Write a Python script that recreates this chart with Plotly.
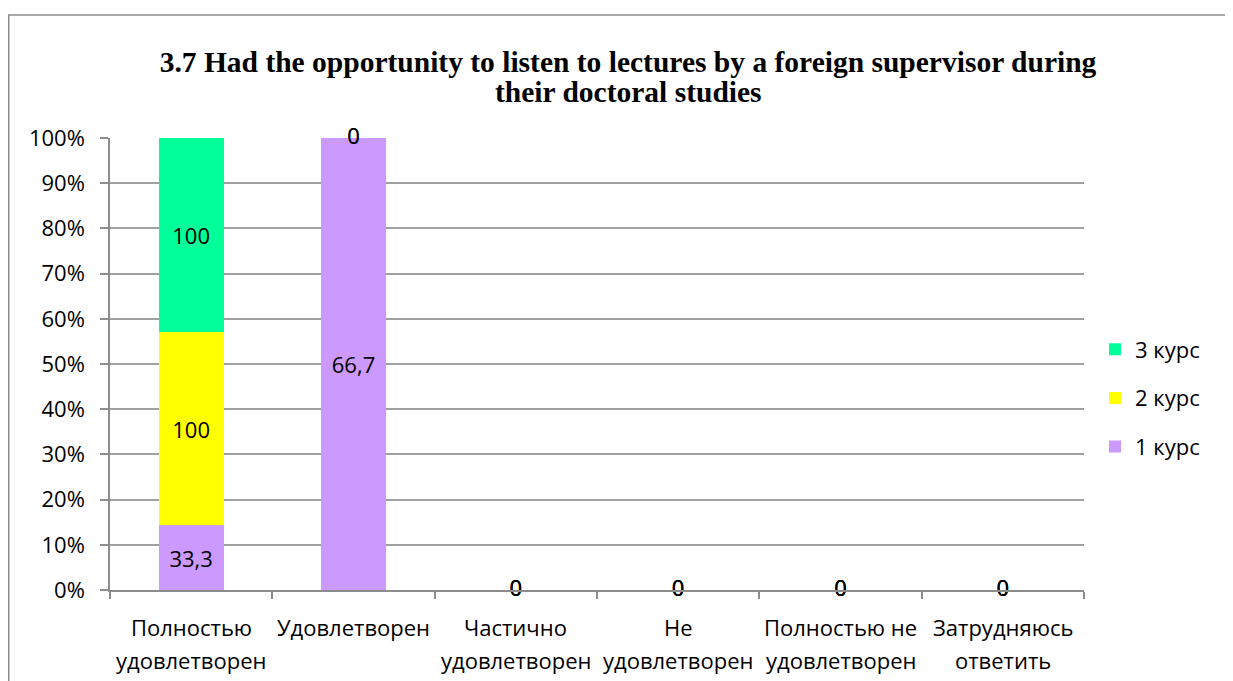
import numpy as np
import plotly.graph_objects as go

categories = ["Полностью<br>удовлетворен", "Удовлетворен", "Частично<br>удовлетворен",
              "Не<br>удовлетворен", "Полностью не<br>удовлетворен", "Затрудняюсь<br>ответить"]
series_names = ["1 курс", "2 курс", "3 курс"]
kurs1 = [33.3, 66.7, 0, 0, 0, 0]
kurs2 = [100, 0, 0, 0, 0, 0]
kurs3 = [100, 0, 0, 0, 0, 0]
colors = ["#CC99FF", "#FFFF00", "#00FF99"]
y_ticks = list(range(0, 101, 10))
title_lines = ["3.7 Had the opportunity to listen to lectures by a foreign supervisor during",
               "their doctoral studies"]

series = [kurs1, kurs2, kurs3]
keys = [f"c{i}" for i in range(len(categories))]

def fmt(v):
    s = f"{v:g}"
    return s.replace(".", ",")

LABEL_FONT = dict(family="Open Sans", size=22, color="black")

fig = go.Figure()
ranks = [3, 2, 1]
for name, vals, col, rk in zip(series_names, series, colors, ranks):
    fig.add_trace(go.Bar(
        x=keys, y=vals, name=name, marker=dict(color=col, line=dict(width=0)),
        text=[fmt(v) if v != 0 else "" for v in vals],
        textposition="inside", insidetextanchor="middle", textangle=0,
        textfont=LABEL_FONT, legendgroup=name, legendrank=rk, hoverinfo="skip"))

# zero-value labels at their stacked position (percent of category total)
arr = np.array(series, dtype=float)
tot = arr.sum(axis=0)
pct = np.divide(arr, tot, out=np.zeros_like(arr), where=tot > 0) * 100
cum = np.cumsum(pct, axis=0)
zx, zy, zt = [], [], []
for k in range(arr.shape[0]):
    for i in range(arr.shape[1]):
        if arr[k, i] == 0:
            zx.append(keys[i]); zy.append(cum[k, i]); zt.append(fmt(arr[k, i]))
fig.add_trace(go.Scatter(x=zx, y=zy, text=zt, mode="text", textposition="middle center",
                         textfont=LABEL_FONT, showlegend=False, hoverinfo="skip", cliponaxis=False))

# page offset of 8px (body margin) is subtracted from screen coordinates
W, H = 1225, 673
L, R, T, B = 102, 1076, 130, 582
PW, PH = R - L, B - T

# category labels (two lines, wide line spacing)
for key, cat in zip(keys, categories):
    for j, ln in enumerate(cat.split("<br>")):
        fig.add_annotation(x=key, y=0, xref="x", yref="paper", text=ln, showarrow=False,
                           yanchor="middle", xanchor="center", yshift=-37 - 33 * j,
                           font=LABEL_FONT)

TITLE_FONT = dict(family="Liberation Serif", size=29.5, color="black", weight="bold")
fig.add_annotation(x=(620 - L) / PW, y=(B - 84) / PH, xref="paper", yref="paper",
                   text=title_lines[1], showarrow=False, xanchor="center", yanchor="middle",
                   font=TITLE_FONT)

fig.add_shape(type="rect", xref="paper", yref="paper",
              x0=(0.75 - L) / PW, x1=(1240 - L) / PW,
              y0=(B - 700) / PH, y1=(B - 7) / PH,
              line=dict(color="#8C8C8C", width=1.5), fillcolor="rgba(0,0,0,0)", layer="below")

fig.update_layout(
    width=W, height=H, barmode="stack", barnorm="percent", bargap=0.6,
    paper_bgcolor="white", plot_bgcolor="white",
    margin=dict(l=L, r=W - R, t=T, b=H - B, pad=0),
    title=dict(text=title_lines[0], x=620 / W, xanchor="center", xref="container",
               y=1 - 54 / H, yanchor="middle", yref="container", font=TITLE_FONT),
    legend=dict(x=(1087 - L) / PW, xanchor="left", y=(B - 390) / PH, yanchor="middle",
                traceorder="grouped", tracegroupgap=17, font=LABEL_FONT,
                bgcolor="rgba(0,0,0,0)", itemwidth=30),
    xaxis=dict(type="category", showticklabels=False, tickson="boundaries", ticks="outside",
               ticklen=7, tickcolor="#8C8C8C", tickwidth=1.5, showline=True, linecolor="#8C8C8C",
               linewidth=1.5, showgrid=False, zeroline=False),
    yaxis=dict(range=[0, 100], tickvals=y_ticks, ticktext=[f"{v}%" for v in y_ticks],
               ticks="outside", ticklen=8, tickcolor="#8C8C8C", tickwidth=1.5,
               showline=True, linecolor="#8C8C8C", linewidth=1.5, ticklabelstandoff=11,
               showgrid=True, gridcolor="#A0A0A0", gridwidth=1.5, zeroline=False,
               tickfont=LABEL_FONT),
)
fig.write_html("out.html")
